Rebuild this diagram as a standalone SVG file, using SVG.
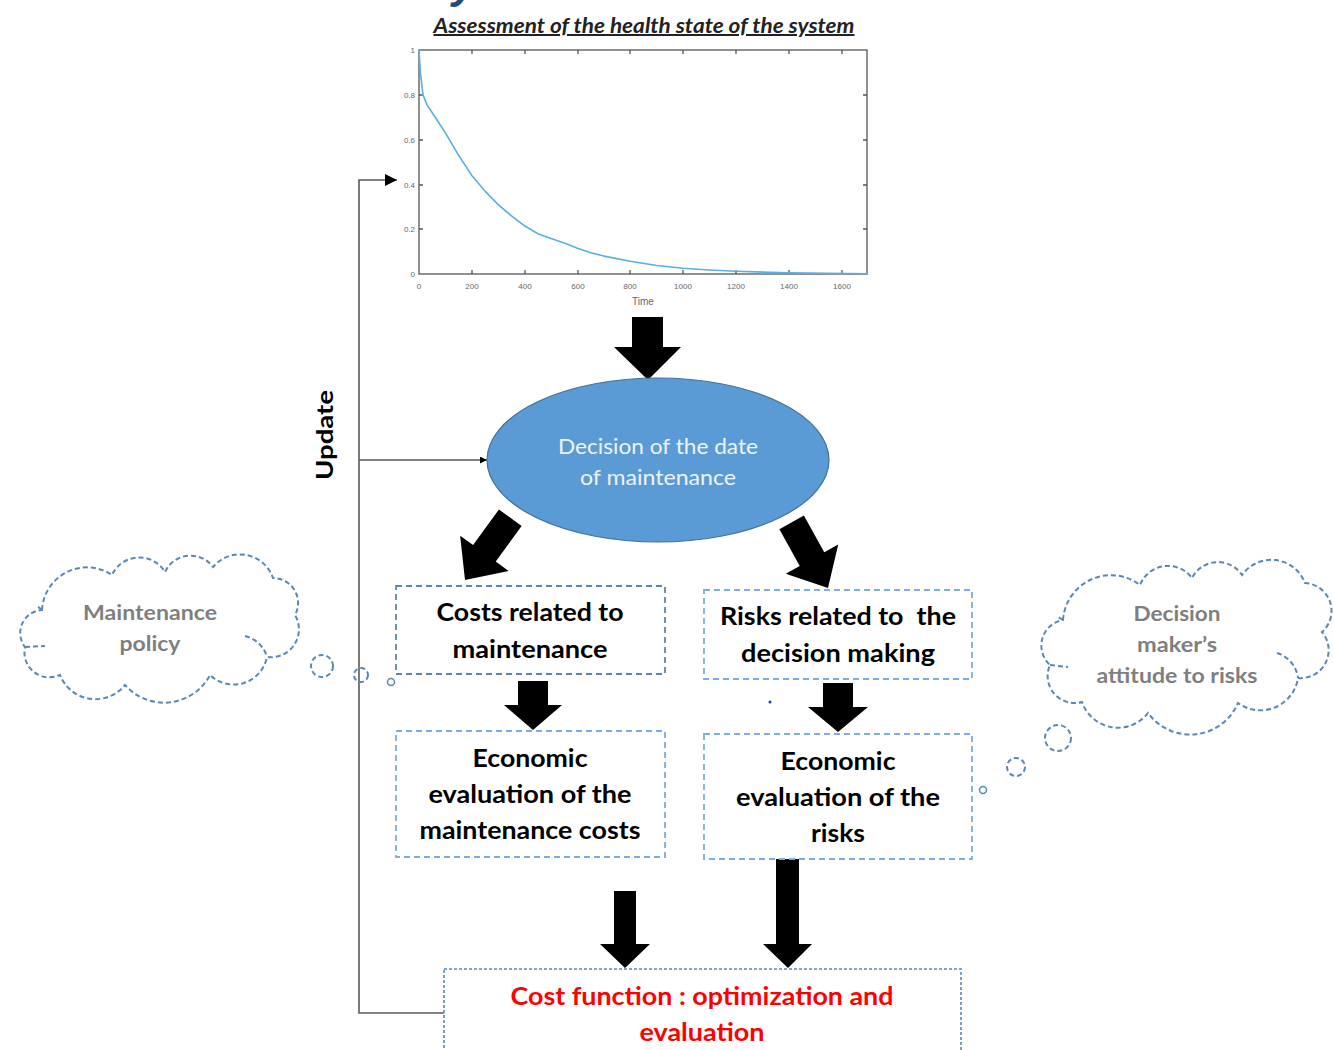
<svg xmlns="http://www.w3.org/2000/svg" width="1334" height="1050" viewBox="0 0 1334 1050">
<style>
.bx{font-family:Lato,"Open Sans","Liberation Sans",sans-serif;font-weight:bold;font-size:25px;fill:#000;text-anchor:middle}
.red{fill:#ff0000}
.cl{font-family:Lato,"Open Sans","Liberation Sans",sans-serif;font-weight:bold;font-size:21px;fill:#7f7f7f;text-anchor:middle}
.el{font-family:Lato,"Open Sans","Liberation Sans",sans-serif;font-size:21px;fill:#eef3fa;text-anchor:middle}
.tk{font-family:"Liberation Sans",Arial,sans-serif;font-size:8px;fill:#666}
.dbox{fill:none;stroke:#7aaee3;stroke-width:1.8;stroke-dasharray:6 4}
.dbox2{fill:none;stroke:#5a86b5;stroke-width:1.8;stroke-dasharray:6 4}
.cloud{fill:#fff;stroke:#5a87b6;stroke-width:2;stroke-dasharray:5 3}
.cin{fill:none;stroke:#5a87b6;stroke-width:2;stroke-dasharray:5 3}
.blk{fill:#000}
.upd{fill:none;stroke:#5a5a5a;stroke-width:1.6}
.ax{fill:none;stroke:#555;stroke-width:1.3}
</style>
<defs>
<marker id="ah" viewBox="0 0 10 10" refX="10" refY="5" markerWidth="7" markerHeight="7" markerUnits="userSpaceOnUse" orient="auto">
<path d="M0,0 L10,5 L0,10 z" fill="#000"/>
</marker>
<marker id="ah2" viewBox="0 0 10 10" refX="10" refY="5" markerWidth="12" markerHeight="12" markerUnits="userSpaceOnUse" orient="auto">
<path d="M0,0 L10,5 L0,10 z" fill="#000"/>
</marker>
</defs>
<rect width="1334" height="1050" fill="#fff"/>

<text x="452" y="-2" font-family="Liberation Sans,Arial,sans-serif" font-size="44" font-weight="bold" font-style="italic" fill="#1f4e79">y</text>

<g id="title">
<text x="644" y="33" font-family="Lato,'Open Sans','Liberation Sans',sans-serif" font-size="20" font-weight="bold" font-style="italic" text-anchor="middle" text-decoration="underline" fill="#222" textLength="421" lengthAdjust="spacingAndGlyphs">Assessment of the health state of the system</text>
</g>

<g id="chart">
<rect x="419" y="50" width="448" height="224" class="ax" fill="#fff"/>
<path class="ax" d="M472,274v-4M525,274v-4M578,274v-4M630,274v-4M683,274v-4M736,274v-4M789,274v-4M842,274v-4
M472,50v4M525,50v4M578,50v4M630,50v4M683,50v4M736,50v4M789,50v4M842,50v4
M419,95h4M419,140h4M419,185h4M419,229h4
M867,95h-4M867,140h-4M867,185h-4M867,229h-4"/>
<polyline fill="none" stroke="#5aaee2" stroke-width="1.6" stroke-linejoin="round" points="419,50 420.3,72 423,94.8 426.9,104.6 432.2,112.7 438.8,122.7 445.4,132.9 458.6,155.3 471.8,175.4 485,191.1 498.2,204.6 511.4,215.8 524.6,225.8 537.8,233.7 551,238.6 564.3,243.1 577.5,248.2 590.7,252.7 603.9,256.1 630.3,261.2 656.7,265.5 683.1,268.2 709.5,270 735.9,271.3 788.7,272.9 868,273.8"/>
<g class="tk" text-anchor="end">
<text x="415" y="53">1</text>
<text x="415" y="98">0.8</text>
<text x="415" y="143">0.6</text>
<text x="415" y="188">0.4</text>
<text x="415" y="232">0.2</text>
<text x="415" y="277">0</text>
</g>
<g class="tk" text-anchor="middle">
<text x="419" y="289">0</text>
<text x="472" y="289">200</text>
<text x="525" y="289">400</text>
<text x="578" y="289">600</text>
<text x="630" y="289">800</text>
<text x="683" y="289">1000</text>
<text x="736" y="289">1200</text>
<text x="789" y="289">1400</text>
<text x="842" y="289">1600</text>
<text x="643" y="305" font-size="10">Time</text>
</g>
</g>

<g id="connectors">
<path class="upd" d="M444,1013 H359 V180 H397" marker-end="url(#ah2)"/>
<path class="upd" d="M359,460 H487" marker-end="url(#ah)"/>
<polygon class="blk" points="632,317 663,317 663,347 681,347 648,380 614,347 632,347"/>
<polygon class="blk" transform="translate(465,580) rotate(36)" points="-14,-77 14,-77 14,-33 30,-33 0,0 -30,-33 -14,-33"/>
<polygon class="blk" transform="translate(828,588) rotate(-29)" points="-14,-75 14,-75 14,-33 30,-33 0,0 -30,-33 -14,-33"/>
<polygon class="blk" points="518,681 548,681 548,705 562,705 533,730 504,705 518,705"/>
<polygon class="blk" points="823,683 853,683 853,707 868,707 838,732 808,707 823,707"/>
<polygon class="blk" points="614,891 636,891 636,944 650,944 625,968 600,944 614,944"/>
<polygon class="blk" points="776,859 799,859 799,944 812,944 788,968 763,944 776,944"/>
</g>

<g id="update-label">
<text transform="translate(333,435) rotate(-90)" font-family="Lato,'Open Sans','Liberation Sans',sans-serif" font-size="23" font-weight="bold" text-anchor="middle" fill="#000" textLength="90" lengthAdjust="spacingAndGlyphs">Update</text>
</g>

<g id="decision">
<ellipse cx="658" cy="460" rx="171" ry="82" fill="#5b9bd5" stroke="#41719c" stroke-width="1.2"/>
<text class="el" x="658" y="454" textLength="200" lengthAdjust="spacingAndGlyphs">Decision of the date</text>
<text class="el" x="658" y="485" textLength="156" lengthAdjust="spacingAndGlyphs">of maintenance</text>
</g>

<g id="costs">
<rect class="dbox2" x="396" y="586" width="269" height="88"/>
<text class="bx" x="530" y="621" textLength="187" lengthAdjust="spacingAndGlyphs">Costs related to</text>
<text class="bx" x="530" y="658" textLength="155" lengthAdjust="spacingAndGlyphs">maintenance</text>
</g>

<g id="risks">
<rect class="dbox" x="704" y="590" width="268" height="89"/>
<text class="bx" x="838" y="625" textLength="236" lengthAdjust="spacingAndGlyphs" style="white-space:pre" xml:space="preserve">Risks related to  the</text>
<text class="bx" x="838" y="662" textLength="194" lengthAdjust="spacingAndGlyphs">decision making</text>
</g>

<g id="eco-costs">
<rect class="dbox" x="396" y="731" width="269" height="126"/>
<text class="bx" x="530" y="767" textLength="115" lengthAdjust="spacingAndGlyphs">Economic</text>
<text class="bx" x="530" y="803" textLength="203" lengthAdjust="spacingAndGlyphs">evaluation of the</text>
<text class="bx" x="530" y="839" textLength="221" lengthAdjust="spacingAndGlyphs">maintenance costs</text>
</g>

<g id="eco-risks">
<rect class="dbox" x="704" y="734" width="268" height="125"/>
<text class="bx" x="838" y="770" textLength="115" lengthAdjust="spacingAndGlyphs">Economic</text>
<text class="bx" x="838" y="806" textLength="204" lengthAdjust="spacingAndGlyphs">evaluation of the</text>
<text class="bx" x="838" y="842" textLength="54" lengthAdjust="spacingAndGlyphs">risks</text>
</g>

<g id="cost-function">
<rect x="444" y="969" width="517" height="100" fill="none" stroke="#5a86b5" stroke-width="1.6" stroke-dasharray="3 2"/>
<text class="bx red" x="702" y="1005" textLength="383" lengthAdjust="spacingAndGlyphs">Cost function : optimization and</text>
<text class="bx red" x="702" y="1041" textLength="125" lengthAdjust="spacingAndGlyphs">evaluation</text>
</g>

<g id="maintenance-policy">
<path class="cloud" d="M42,610 A45,45 0 0 1 112,575 A30,30 0 0 1 165,572 A28,28 0 0 1 213,567 A35,35 0 0 1 273,578 A25,25 0 0 1 295,615 A28,28 0 0 1 267,657 A34,34 0 0 1 210,675 A52,52 0 0 1 125,685 A38,38 0 0 1 60,675 A25,25 0 0 1 25,647 A23,23 0 0 1 42,610 Z"/>
<path class="cin" d="M245,636 A30,30 0 0 1 267,657 M25,647 L45,646 M42,610 L37,606"/>
<circle class="cin" cx="322" cy="666" r="11"/>
<circle class="cin" cx="361" cy="675" r="7"/>
<circle cx="391" cy="682" r="3.5" fill="none" stroke="#5a87b6" stroke-width="1.5"/>
<text class="cl" x="150" y="620" textLength="134" lengthAdjust="spacingAndGlyphs">Maintenance</text>
<text class="cl" x="150" y="651" textLength="61" lengthAdjust="spacingAndGlyphs">policy</text>
</g>

<g id="attitude">
<path class="cloud" d="M1063,620 A48,48 0 0 1 1140,585 A30,30 0 0 1 1192,578 A29,29 0 0 1 1242,575 A36,36 0 0 1 1305,583 A28,28 0 0 1 1322,632 A28,28 0 0 1 1298,678 A38,38 0 0 1 1238,703 A52,52 0 0 1 1148,713 A38,38 0 0 1 1082,702 A27,27 0 0 1 1050,665 A26,26 0 0 1 1063,620 Z"/>
<path class="cin" d="M1277,653 A30,30 0 0 1 1298,678 M1050,665 L1068,667 M1063,620 L1058,617"/>
<circle class="cin" cx="1058" cy="738" r="13"/>
<circle class="cin" cx="1016" cy="767" r="9"/>
<circle cx="983" cy="790" r="3.5" fill="none" stroke="#5a87b6" stroke-width="1.5"/>
<text class="cl" x="1177" y="621" textLength="87" lengthAdjust="spacingAndGlyphs">Decision</text>
<text class="cl" x="1177" y="652" textLength="80" lengthAdjust="spacingAndGlyphs">maker’s</text>
<text class="cl" x="1177" y="683" textLength="161" lengthAdjust="spacingAndGlyphs">attitude to risks</text>
</g>

<circle cx="770" cy="702" r="1.5" fill="#2233dd"/>
</svg>
